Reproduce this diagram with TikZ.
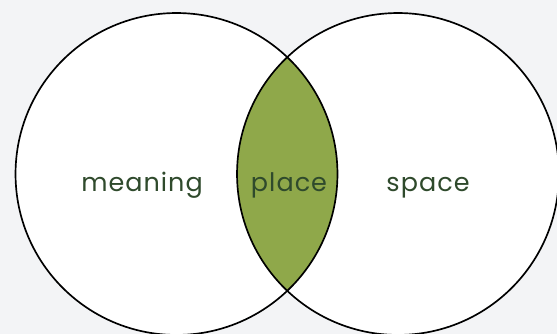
\documentclass[tikz,border=0pt]{standalone}
\usepackage{fontspec}
\setmainfont{Poppins}[LetterSpace=4]
\usetikzlibrary{positioning}
\definecolor{bgGray}{HTML}{F3F4F6}
\definecolor{leafGreen}{HTML}{8FA84A}
\definecolor{darkLeaf}{HTML}{2F4A2C}

\begin{document}
\begin{tikzpicture}[x=0.02cm, y=-0.02cm,
    ring/.style={
        circle, minimum size=6.44cm, inner sep=0pt,
        draw=black, line width=0.95pt
    },
    word/.style={
        anchor=base, inner sep=0pt,
        font=\fontsize{14.5}{17}\selectfont, text=darkLeaf
    }
]

\fill[bgGray] (0,0) rectangle (557,334);
\useasboundingbox (0,0) rectangle (557,334);

\coordinate (meaningO) at (176.5,174);
\coordinate (spaceO)   at (398,174);

\fill[white] (meaningO) circle[radius=161];
\fill[white] (spaceO)   circle[radius=161];

% overlap of the two sets
\begin{scope}
    \clip (meaningO) circle[radius=161];
    \fill[leafGreen] (spaceO) circle[radius=161];
\end{scope}

\node[ring] at (meaningO) (meaningC) {};
\node[ring] at (spaceO)   (spaceC)   {};

\node[word] at (142,192) (meaning) {meaning};
\node[word] at (289,192) (place)   {place};
\node[word] at (428,192) (space)   {space};

\end{tikzpicture}
\end{document}
